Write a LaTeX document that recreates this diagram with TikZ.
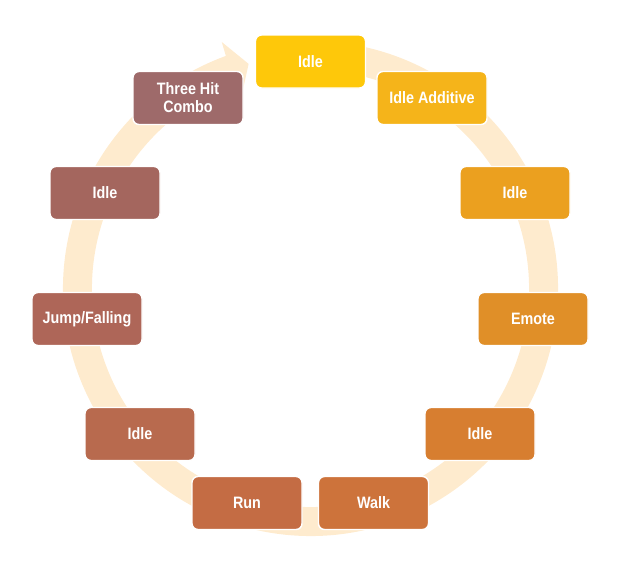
\documentclass[tikz,border=0pt]{standalone}
\usepackage{fontspec}
\newfontfamily\boxfont{Liberation Sans}[FakeStretch=0.87]
\definecolor{bandc}{RGB}{254,235,206}
\definecolor{cA}{HTML}{FEC80A}
\definecolor{cB}{HTML}{F5B41A}
\definecolor{cC}{HTML}{EBA01F}
\definecolor{cD}{HTML}{E08F28}
\definecolor{cE}{HTML}{D77E30}
\definecolor{cF}{HTML}{CD733B}
\definecolor{cG}{HTML}{C46C44}
\definecolor{cH}{HTML}{B86A4E}
\definecolor{cI}{HTML}{AE6658}
\definecolor{cJ}{HTML}{A4665E}
\definecolor{cK}{HTML}{9E6A6A}
\begin{document}
\begin{tikzpicture}[x=1pt,y=1pt,
  box/.style={draw=white,line width=1.4pt,rounded corners=6pt,minimum width=110pt,minimum height=53pt,
    inner sep=2pt,text=white,font=\boxfont\bfseries\fontsize{16.5}{18}\selectfont,align=center}]
\useasboundingbox (0,0) rectangle (629,-584);
\begin{scope}[shift={(310.5,-288.5)}]
\fill[bandc] (80:247.5pt) arc[start angle=80,end angle=-250,radius=247.5pt]
  -- (-250.2:262pt) -- (-254.6:233pt) -- (-250.2:204pt) -- (-250:218.5pt)
  arc[start angle=-250,end angle=80,radius=218.5pt] -- cycle;
\end{scope}
\node[box,fill=cA] (n1) at (310.5,-61.5) {Idle};
\node[box,fill=cB] (n2) at (432,-98) {Idle Additive};
\node[box,fill=cC] (n3) at (515,-193) {Idle};
\node[box,fill=cD] (n4) at (533,-319) {Emote};
\node[box,fill=cE] (n5) at (480,-434) {Idle};
\node[box,fill=cF] (n6) at (373.5,-503) {Walk};
\node[box,fill=cG] (n7) at (247,-503) {Run};
\node[box,fill=cH] (n8) at (140,-434) {Idle};
\node[box,fill=cI] (n9) at (87,-319) {Jump/Falling};
\node[box,fill=cJ] (n10) at (105,-193) {Idle};
\node[box,fill=cK] (n11) at (188,-98) {Three Hit\\Combo};
\end{tikzpicture}
\end{document}
